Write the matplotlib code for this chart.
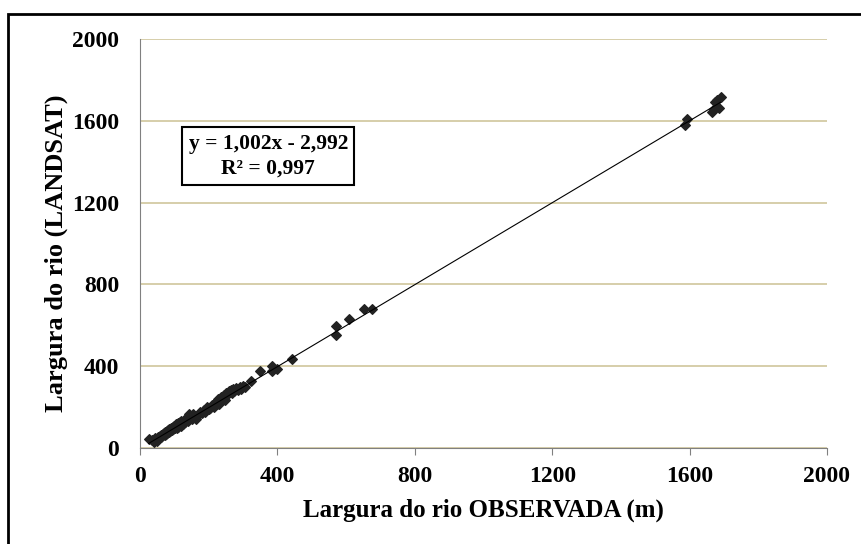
import matplotlib.pyplot as plt
import numpy as np

obs = [25, 35, 40, 45, 48, 50, 52, 55, 58, 60, 62, 65, 66, 68, 70, 72, 74, 75,
       78, 80, 82, 84, 85, 88, 90, 92, 95, 97, 100, 102, 105, 108, 110, 112,
       115, 118, 120, 125, 128, 130, 135, 140, 143, 145, 150, 155, 160, 163,
       170, 175, 180, 185, 190, 195, 200, 205, 210, 215, 220, 225, 228, 230,
       232, 235, 240, 245, 248, 250, 255, 258, 262, 265, 268, 272, 275, 280,
       285, 290, 295, 300, 305, 324, 348, 385, 385, 399, 443,
       571, 572, 609, 653, 676,
       1588, 1592, 1665, 1670, 1675, 1680, 1685, 1690]
landsat = [45, 38, 30, 50, 42, 35, 55, 48, 60, 52, 65, 58, 70, 62, 75, 66, 80, 70,
           85, 74, 90, 78, 95, 82, 100, 88, 105, 92, 110, 96, 115, 100, 120, 105,
           125, 110, 130, 118, 135, 125, 140, 132, 166, 150, 142, 165, 150, 142,
           160, 175, 170, 185, 178, 200, 190, 195, 210, 200, 225, 215, 240, 215,
           230, 250, 245, 260, 235, 270, 262, 280, 275, 285, 270, 290, 280, 295,
           285, 300, 290, 305, 298, 328, 376, 376, 401, 386, 435,
           553, 597, 631, 680, 680,
           1580, 1610, 1645, 1660, 1690, 1700, 1665, 1715]

slope, intercept = 1.002, -2.992

plt.rcParams['font.family'] = ['Liberation Serif', 'DejaVu Serif']

W, H = 862, 544
fig = plt.figure(figsize=(W / 100, H / 100), dpi=100)
ax = fig.add_axes([140 / W, 1 - 448 / H, 687 / W, 409 / H])

# outer frame (left/top edges visible, right/bottom run off the image)
fig.patches.append(plt.Rectangle((8 / W, -0.05), 1.0, 1 - 14 / H + 0.05,
                                 transform=fig.transFigure, fill=False,
                                 edgecolor='black', linewidth=2))

ax.scatter(obs, landsat, marker='D', s=24, color='#222222', zorder=3)

xs = np.array([min(obs), max(obs)])
ax.plot(xs, slope * xs + intercept, color='black', linewidth=0.8, zorder=4)

ax.set_xlim(0, 2000)
ax.set_ylim(0, 2000)
ax.set_xticks(np.arange(0, 2001, 400))
ax.set_yticks(np.arange(0, 2001, 400))
ax.yaxis.grid(True, color='#CFC69C', linewidth=1.2)
ax.set_axisbelow(True)
for s in ['top', 'right']:
    ax.spines[s].set_visible(False)
for s in ['left', 'bottom']:
    ax.spines[s].set_color('#808080')
ax.tick_params(axis='x', direction='out', length=5, color='#808080', pad=8)
ax.tick_params(axis='y', length=0, pad=15)
ax.tick_params(labelsize=17)
for lbl in ax.get_xticklabels() + ax.get_yticklabels():
    lbl.set_fontweight('bold')

ax.set_xlabel('Largura do rio OBSERVADA (m)', fontsize=18, weight='bold', labelpad=8)
ax.set_ylabel('Largura do rio (LANDSAT)', fontsize=19, weight='bold')
ax.yaxis.set_label_coords(-0.105, 0.475)

ax.text(0.1866, 0.713, 'y = 1,002x - 2,992\nR² = 0,997', transform=ax.transAxes,
        ha='center', va='center', fontsize=15.5, weight='bold', linespacing=1.35,
        bbox=dict(boxstyle='square,pad=0.3', facecolor='white', edgecolor='black', linewidth=1.5),
        zorder=5)

plt.savefig('out.png', dpi=100)
